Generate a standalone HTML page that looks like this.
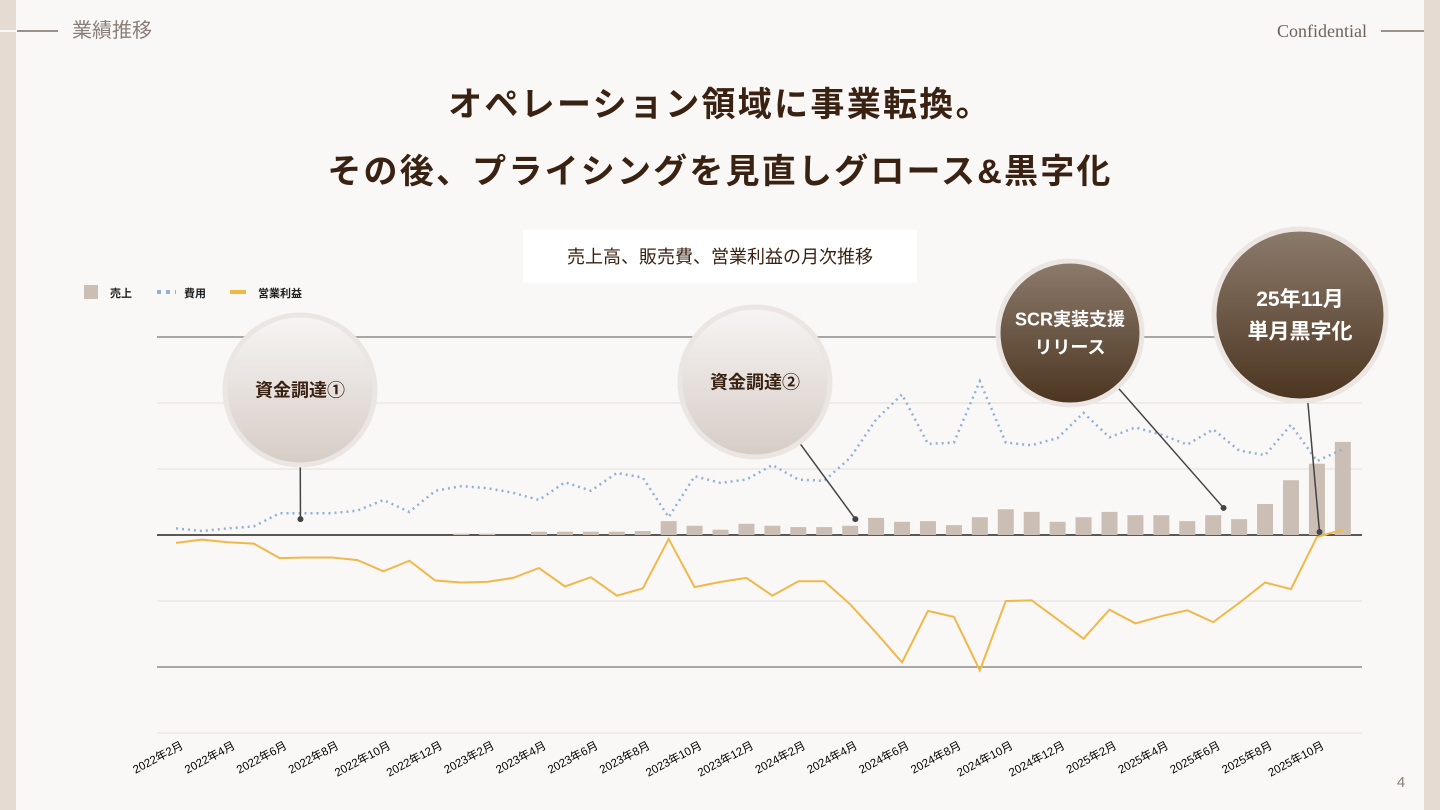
<!DOCTYPE html>
<html><head><meta charset="utf-8">
<style>
html,body{margin:0;padding:0;}
body{width:1440px;height:810px;background:#f9f8f7;position:relative;overflow:hidden;font-family:"Liberation Sans","Noto Sans CJK JP",sans-serif;}
svg{position:absolute;left:0;top:0;}
</style></head>
<body>
<svg id="chart" width="1440" height="810" viewBox="0 0 1440 810">
<defs>
<linearGradient id="lg" x1="0" y1="0" x2="0" y2="1"><stop offset="0" stop-color="#f7f5f4"/><stop offset="1" stop-color="#d6ccc6"/></linearGradient>
<linearGradient id="dg" x1="0" y1="0" x2="0" y2="1"><stop offset="0" stop-color="#8d7b6c"/><stop offset="1" stop-color="#4b3520"/></linearGradient>
</defs>
<rect x="0" y="0" width="16" height="810" fill="#e6dbd3"/>
<rect x="1424" y="0" width="16" height="810" fill="#e6dbd3"/>
<line x1="0" y1="31" x2="17" y2="31" stroke="#ffffff" stroke-width="1.5"/>
<line x1="17" y1="31" x2="58" y2="31" stroke="#7a6e66" stroke-width="1.5"/>
<text x="72" y="37" font-size="20" fill="#8a7f78">業績推移</text>
<text x="1367" y="37" font-size="18" fill="#6e625a" text-anchor="end" font-family="Liberation Serif, serif">Confidential</text>
<line x1="1381" y1="31" x2="1424" y2="31" stroke="#7a6e66" stroke-width="1.5"/>
<text x="720" y="116" font-size="34" font-weight="bold" fill="#3a2213" text-anchor="middle" letter-spacing="2.3">オペレーション領域に事業転換。</text>
<text x="720" y="183" font-size="34" font-weight="bold" fill="#3a2213" text-anchor="middle" letter-spacing="2.2">その後、プライシングを見直しグロース&amp;黒字化</text>
<rect x="523" y="230" width="394" height="53" fill="#ffffff"/>
<text x="720" y="263" font-size="18" fill="#3a2213" text-anchor="middle">売上高、販売費、営業利益の月次推移</text>
<g>
<rect x="84" y="285" width="14" height="14" fill="#cbbfb5"/>
<text x="110" y="297" font-size="11" fill="#222" font-weight="bold">売上</text>
<line x1="157" y1="292" x2="176" y2="292" stroke="#8fb0d8" stroke-width="4" stroke-dasharray="4,5"/>
<text x="184" y="297" font-size="11" fill="#222" font-weight="bold">費用</text>
<line x1="230" y1="292" x2="246" y2="292" stroke="#f0b848" stroke-width="4"/>
<text x="258" y="297" font-size="11" fill="#222" font-weight="bold">営業利益</text>
</g>
<g id="grid"></g><g id="bars"></g><g id="lines"></g><g id="xlabels"></g><g id="ann"></g>
<text x="1401" y="787" font-size="15" fill="#8a7f78" text-anchor="middle">4</text>
</svg>
<script>
const months = [];
for (let y = 2022, m = 2; months.length < 46; ) { months.push(y + '年' + m + '月'); m++; if (m > 12) { m = 1; y++; } }
const revenue = [0,0,0,0,0,0,0,0,0,0,0,0.2,0.2,0,0.5,0.5,0.5,0.5,0.6,2.1,1.4,0.8,1.7,1.4,1.2,1.2,1.4,2.6,2.0,2.1,1.5,2.7,3.9,3.5,2.0,2.7,3.5,3.0,3.0,2.1,3.0,2.4,4.7,8.3,10.8,14.1];
const cost = [1.0,0.6,1.0,1.3,3.3,3.3,3.3,3.7,5.3,3.5,6.7,7.4,7.1,6.4,5.3,8.0,6.7,9.4,8.7,2.7,8.9,7.9,8.4,10.6,8.4,8.2,11.7,17.5,21.3,13.8,14.0,23.3,14.0,13.6,14.7,18.5,14.8,16.3,15.2,13.7,16.0,12.8,12.1,16.7,11.2,13.0];
const profit = [-1.2,-0.7,-1.1,-1.3,-3.5,-3.4,-3.4,-3.8,-5.5,-3.9,-6.9,-7.2,-7.1,-6.5,-5.0,-7.8,-6.4,-9.2,-8.1,-0.6,-7.9,-7.1,-6.5,-9.2,-7.0,-7.0,-10.5,-14.8,-19.3,-11.5,-12.4,-20.5,-10.0,-9.9,-12.8,-15.7,-11.3,-13.4,-12.3,-11.4,-13.2,-10.3,-7.2,-8.2,-0.3,0.8];
const gridTicks = [30,20,10,0,-10,-20,-30];
const annotations = [
 {label:['資金調達①'], idx:4.8, val:2.4, cx:300, cy:390, r:75, dark:false},
 {label:['資金調達②'], idx:26.2, val:2.4, cx:755, cy:382, r:75, dark:false},
 {label:['SCR実装支援','リリース'], idx:40.4, val:4.1, cx:1070, cy:333, r:72, dark:true},
 {label:['25年11月','単月黒字化'], idx:44.1, val:0.45, cx:1300, cy:315, r:86, dark:true}
];
const NS='http://www.w3.org/2000/svg';
function X(i){return 176 + i*25.93;}
function Y(v){return 535 - v*6.6;}
function mk(tag, attrs, parent){const e=document.createElementNS(NS,tag);for(const k in attrs)e.setAttribute(k,attrs[k]);parent.appendChild(e);return e;}
const grid=document.getElementById('grid');
gridTicks.forEach(t=>{
  const strong = t===30||t===-20;
  const l=mk('line',{x1:157,x2:1362,y1:Y(t),y2:Y(t),stroke: t===0?'#222':(strong?'#8c8c8c':'#e2dedb'),'stroke-width': t===0?1.5:(strong?1.5:1)},grid);
  
  
});
const bars=document.getElementById('bars');
revenue.forEach((v,i)=>{
  if(v<=0) return;
  const b=mk('rect',{x:X(i)-8,y:Y(v),width:16,height:Y(0)-Y(v),fill:'#cbbfb5'},bars);
  
  
});
const lines=document.getElementById('lines');
const cp=mk('polyline',{points:cost.map((v,i)=>X(i)+','+Y(v)).join(' '),fill:'none',stroke:'#8fb0d8','stroke-width':2.5,'stroke-dasharray':'2,4'},lines);


const pp=mk('polyline',{points:profit.map((v,i)=>X(i)+','+Y(v)).join(' '),fill:'none',stroke:'#f0b848','stroke-width':2},lines);


const xl=document.getElementById('xlabels');
months.forEach((m,i)=>{
  if(i%2) return;
  const t=mk('text',{x:X(i)+8,y:748,'font-size':11.5,fill:'#000','text-anchor':'end',transform:'rotate(-28 '+(X(i)+8)+' 748)'},xl);
  t.textContent=m;
  
  
});
const ann=document.getElementById('ann');
annotations.forEach((a,k)=>{
  const px=X(a.idx), py=Y(a.val);
  const dx=px-a.cx, dy=py-a.cy, d=Math.hypot(dx,dy);
  const ln=mk('line',{x1:a.cx+dx/d*a.r,y1:a.cy+dy/d*a.r,x2:px,y2:py,stroke:'#444','stroke-width':1.5},ann);
  
  
  const dot=mk('circle',{cx:px,cy:py,r:3,fill:'#444'},ann);
  
  
  const c=mk('circle',{cx:a.cx,cy:a.cy,r:a.r,fill:a.dark?'url(#dg)':'url(#lg)',stroke:'#ece6e3','stroke-width':5},ann);
  
  
  const fs = a.dark ? (a.r>80?21:18) : 18;
  a.label.forEach((s,j)=>{
    const t=mk('text',{x:a.cx,y:a.cy+fs*0.35+(j-(a.label.length-1)/2)*(fs*1.55),'font-size':fs,'font-weight':'bold',fill:a.dark?'#ffffff':'#3a2213','text-anchor':'middle'},ann);
    t.textContent=s;
    
    
  });
});
</script>
</body></html>
